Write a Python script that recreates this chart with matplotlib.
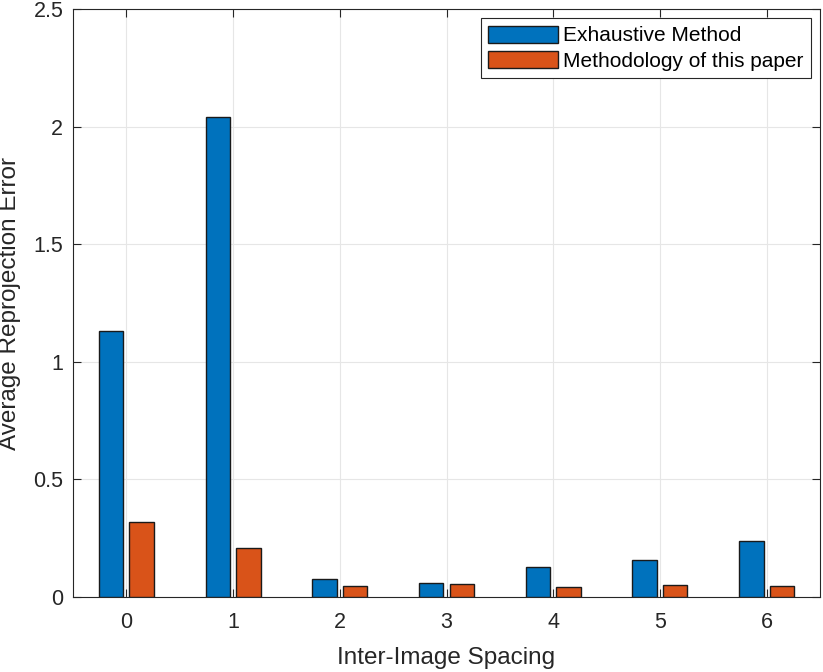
import numpy as np
import matplotlib.pyplot as plt

plt.rcParams['font.family'] = ['Liberation Sans', 'DejaVu Sans']

spacing = [0, 1, 2, 3, 4, 5, 6]
exhaustive = [1.132, 2.042, 0.077, 0.058, 0.126, 0.156, 0.240]
ours = [0.317, 0.209, 0.048, 0.054, 0.044, 0.053, 0.046]
labels = ['Exhaustive Method', 'Methodology of this paper']

fig = plt.figure(figsize=(8.23, 6.72), dpi=100)
ax = fig.add_axes([73 / 823, 1 - 597 / 672, 747 / 823, 588 / 672])

x = np.array(spacing)
w = 0.2286
ax.bar(x - 0.143, exhaustive, w, color='#0072BD', edgecolor='#1a1a1a', linewidth=1.0, label=labels[0], zorder=3)
ax.bar(x + 0.143, ours, w, color='#D95319', edgecolor='#1a1a1a', linewidth=1.0, label=labels[1], zorder=3)

ax.set_xlim(-0.5, 6.5)
ax.set_ylim(0, 2.5)
ax.set_xticks(spacing)
ax.set_yticks([0, 0.5, 1, 1.5, 2, 2.5])
ax.set_yticklabels(['0', '0.5', '1', '1.5', '2', '2.5'])
ax.grid(True, color='#e6e6e6', linewidth=0.8, zorder=0)
ax.set_axisbelow(True)
ax.tick_params(direction='in', length=5.5, width=0.8, top=True, right=True,
               labelsize=15.5, colors='#262626')
ax.tick_params(axis='x', pad=11)
ax.tick_params(axis='y', pad=7)
for s in ax.spines.values():
    s.set_color('#262626')
    s.set_linewidth(0.8)

ax.set_xlabel('Inter-Image Spacing', fontsize=17.5, color='#262626', labelpad=10)
ax.set_ylabel('Average Reprojection Error', fontsize=17.5, color='#262626', labelpad=9)

leg = ax.legend(loc='upper right', fontsize=15, frameon=True, fancybox=False,
                edgecolor='#262626', framealpha=1, borderaxespad=0.45,
                handlelength=3.36, handleheight=0.9, handletextpad=0.23,
                labelspacing=0.25, borderpad=0.35)
leg.get_frame().set_linewidth(0.8)

fig.savefig('out.png', dpi=100)
